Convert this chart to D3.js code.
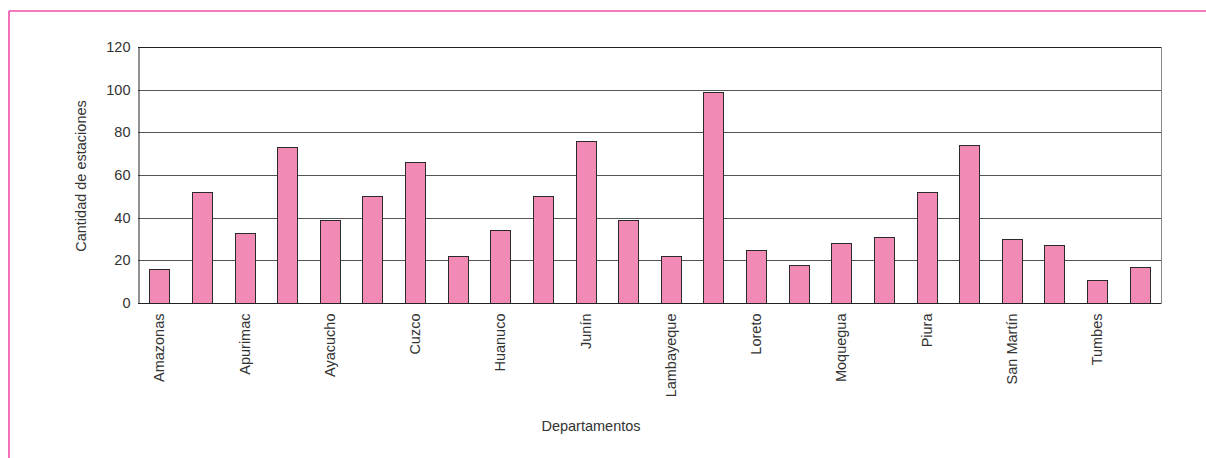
<!DOCTYPE html>
<html><head><meta charset="utf-8">
<script src="https://cdn.jsdelivr.net/npm/d3@7"></script>
<style>body{margin:0;background:#fff}svg{display:block}</style>
</head><body><svg id="c" width="1206" height="458"></svg>
<script>
const categories = ["Amazonas","Ancash","Apurimac","Arequipa","Ayacucho","Cajamarca","Cuzco","Huancavelica","Huanuco","Ica","Junín","La Libertad","Lambayeque","Lima","Loreto","Madre de Dios","Moquegua","Pasco","Piura","Puno","San Martín","Tacna","Tumbes","Ucayali"];
const values = [16,52,33,73,39,50,66,22,34,50,76,39,22,99,25,18,28,31,52,74,30,27,11,17];
const yTicks = [0,20,40,60,80,100,120];
const labeledCategories = categories.filter((d,i)=>i%2===0);

const svg = d3.select("#c");
const font = "Liberation Sans, Arial, sans-serif";
const fs = 14.5;
const tc = "#333";
const m = {l:138, r:1161, t:47, b:303};
const x = d3.scaleBand().domain(categories).range([m.l,m.r]).paddingInner(0.53).paddingOuter(0.265);
const y = d3.scaleLinear().domain([0,120]).range([m.b,m.t]);

// pink frame
svg.append("line").attr("x1",9).attr("x2",1206).attr("y1",11).attr("y2",11).attr("stroke","#EE4FA8").attr("stroke-width",1.6);
svg.append("line").attr("x1",9).attr("x2",9).attr("y1",11).attr("y2",458).attr("stroke","#EE4FA8").attr("stroke-width",1.6);

// gridlines
svg.append("g").selectAll("line").data(yTicks.filter(d=>d>0)).join("line")
  .attr("x1",m.l).attr("x2",m.r).attr("y1",d=>Math.round(y(d))+0.5).attr("y2",d=>Math.round(y(d))+0.5)
  .attr("stroke",d=>d===120?"#222":"#555").attr("stroke-width",1);
// right border
svg.append("line").attr("x1",m.r+0.5).attr("x2",m.r+0.5).attr("y1",m.t).attr("y2",m.b).attr("stroke","#888");

// bars
svg.append("g").selectAll("rect").data(values).join("rect")
  .attr("x",(d,i)=>Math.round(x(categories[i]))+0.5)
  .attr("y",d=>Math.round(y(d))+0.5)
  .attr("width",Math.round(x.bandwidth()))
  .attr("height",d=>Math.round(y(0))-Math.round(y(d)))
  .attr("fill","#F28AB6").attr("stroke","#2a2a2a").attr("stroke-width",1);

// y axis
const ya = svg.append("g").attr("transform",`translate(${m.l+0.5},0)`)
  .call(d3.axisLeft(y).tickValues(yTicks).tickSize(0).tickPadding(8));
ya.select(".domain").attr("stroke","#222");
ya.selectAll("text").attr("font-family",font).attr("font-size",fs).attr("fill",tc);

// x axis
const xa = svg.append("g").attr("transform",`translate(0,${m.b+0.5})`)
  .call(d3.axisBottom(x).tickValues(labeledCategories).tickSize(0).tickPadding(0));
xa.select(".domain").attr("stroke","#222").attr("d",`M${m.l},0H${m.r+0.5}`);
xa.selectAll("text").attr("font-family",font).attr("font-size",fs).attr("fill",tc)
  .attr("transform","rotate(-90)").attr("text-anchor","end").attr("dy","0.35em").attr("dx","-10").attr("y",0).attr("x",0);

// axis titles
svg.append("text").attr("transform","translate(86,176) rotate(-90)").attr("text-anchor","middle")
  .attr("font-family",font).attr("font-size",fs).attr("fill",tc).text("Cantidad de estaciones");
svg.append("text").attr("x",591).attr("y",431).attr("text-anchor","middle")
  .attr("font-family",font).attr("font-size",fs).attr("fill",tc).text("Departamentos");
</script></body></html>
